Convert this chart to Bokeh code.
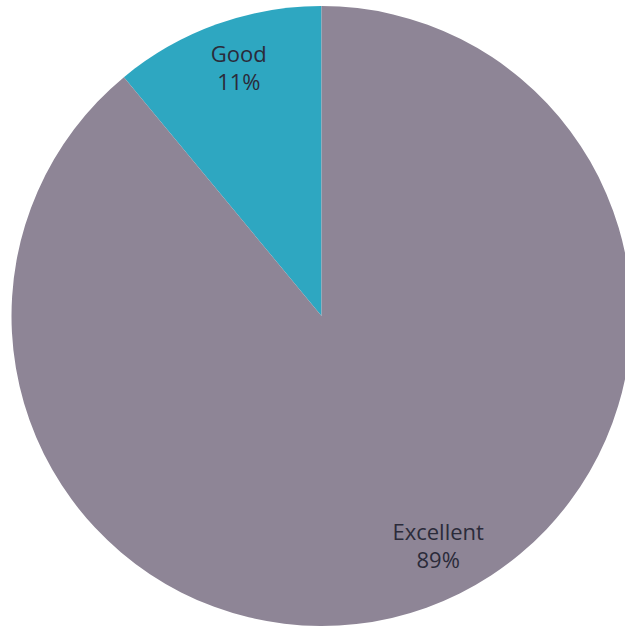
import numpy as np
from bokeh.plotting import figure
from bokeh.models import Range1d, ColumnDataSource
from bokeh.core.properties import value
from bokeh.embed import file_html
from bokeh.resources import INLINE

# data
categories = ["Good", "Excellent"]
percents = [11, 89]
colors = ["#2ea7c1", "#8e8596"]

# layout / style
W, H = 625, 628
cx, cy, R = 321, 312.5, 310
label_angle_deg = [108.4, 297.0]
label_dist = [262, 257]
line_gap = 14

fr = np.array(percents, dtype=float) / sum(percents)
cum = np.concatenate([[0], np.cumsum(fr)])
start = np.pi / 2 + 2 * np.pi * cum[:-1]
end = np.pi / 2 + 2 * np.pi * cum[1:]

src = ColumnDataSource(dict(start=start, end=end, color=colors,
                            x=[cx] * len(categories), y=[cy] * len(categories)))

p = figure(width=W, height=H, output_backend="svg", toolbar_location=None,
           x_range=Range1d(0, W), y_range=Range1d(0, H), min_border=0)
p.axis.visible = False
p.grid.visible = False
p.outline_line_color = None
p.background_fill_color = "white"
p.border_fill_color = "white"

p.wedge(x="x", y="y", radius=R, start_angle="start", end_angle="end",
        fill_color="color", line_color=None, source=src)

la = np.radians(label_angle_deg)
lx = cx + np.array(label_dist) * np.cos(la)
ly = cy + np.array(label_dist) * np.sin(la)
p.text(x=lx, y=ly + line_gap, text=categories, text_align="center",
       text_baseline="middle", text_font=value("Open Sans"),
       text_font_size="22px", text_color="#2b2b3a")
p.text(x=lx, y=ly - line_gap, text=[f"{v}%" for v in percents],
       text_align="center", text_baseline="middle",
       text_font=value("Open Sans"), text_font_size="22px",
       text_color="#2b2b3a")

open("out.html", "w").write(file_html(p, INLINE))
